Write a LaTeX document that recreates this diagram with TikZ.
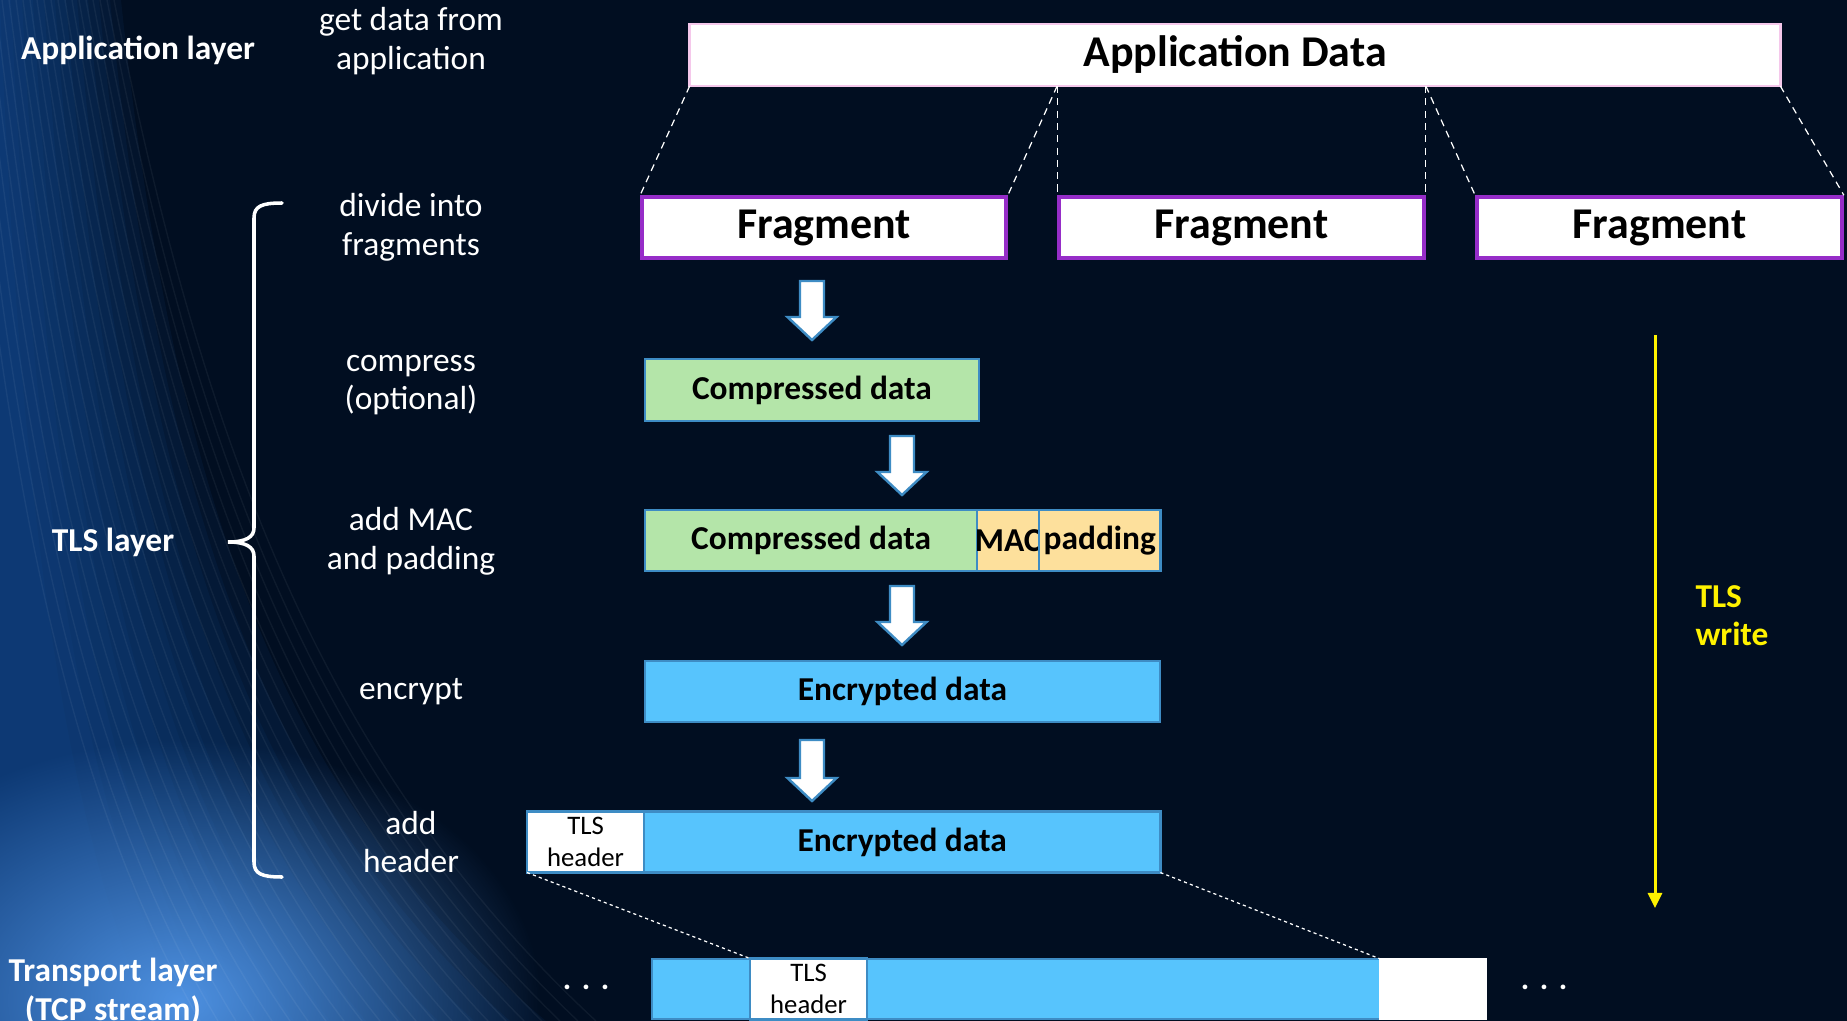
\documentclass[tikz,border=0pt]{standalone}
\usepackage{fontspec}
\setmainfont{Carlito}
\usetikzlibrary{arrows.meta,fadings}

\definecolor{bgnavy}{RGB}{1,14,33}
\definecolor{glowblue}{RGB}{24,84,160}
\definecolor{paleblue}{RGB}{78,145,225}
\definecolor{edgeblue}{RGB}{62,140,196}
\definecolor{compgreen}{RGB}{180,229,169}
\definecolor{padorange}{RGB}{253,224,156}
\definecolor{encblue}{RGB}{87,196,253}
\definecolor{fragpurple}{RGB}{150,45,200}
\definecolor{apppink}{RGB}{245,200,235}

\tikzfading[name=glowfade, inner color=transparent!0, outer color=transparent!100]

% block arrow: x of axis, top, tip
\newcommand\blockarrow[3]{%
  \draw[blockarr] (#1-12,#2) -- (#1+12,#2) -- (#1+12,#3-23) -- (#1+24.5,#3-23)
    -- (#1,#3) -- (#1-24.5,#3-23) -- (#1-12,#3-23) -- cycle;}

\begin{document}
\begin{tikzpicture}[x=0.01cm,y=-0.01cm,
  box/.style={draw=edgeblue,line width=0.7pt,inner sep=0pt,outer sep=0pt,minimum height=0.61cm,
    text=black,font=\bfseries\fontsize{9.5}{11}\selectfont},
  fragbox/.style={draw=fragpurple,fill=white,line width=1pt,inner sep=0pt,
    minimum width=3.65cm,minimum height=0.61cm,font=\bfseries\fontsize{12.5}{14}\selectfont},
  hdrbox/.style={box,fill=white,minimum width=1.17cm,align=center,
    font=\fontsize{7.6}{9}\selectfont},
  steplabel/.style={text=white,align=center,font=\fontsize{9.5}{11}\selectfont},
  layerlabel/.style={text=white,align=center,font=\bfseries\fontsize{9.5}{11}\selectfont},
  blockarr/.style={draw=edgeblue,fill=white,line width=0.7pt,line join=miter},
  splitline/.style={white,line width=0.35pt,dash pattern=on 2pt off 1.5pt},
  mapline/.style={white,line width=0.35pt,dash pattern=on 0.9pt off 0.9pt},
  brace/.style={white,line width=1pt,line cap=round}]
\useasboundingbox (0,0) rectangle (1847,1021);
% ================= background =================
\fill[bgnavy] (0,0) rectangle (1847,1021);
\foreach \k in {0,...,11}{
  \fill[glowblue,opacity=0.09] (0,0) -- (\k*11,0) .. controls (\k*14+20,500)
    and (\k*20+60,800) .. (\k*36+150,1021) -- (0,1021) -- cycle;
}
\fill[paleblue,path fading=glowfade] (180,1000) ellipse (360 and 260);
\foreach \i in {0,...,22}{
  \draw[white,opacity=0.05,line width=0.4pt] (\i*7-40,0) .. controls (\i*9,420)
    and (\i*12+50,760) .. (\i*18+200,1021);
}
% ================= left column =================
\node[layerlabel] (applayer) at (138,50) {Application layer};
\node[layerlabel] (tlslayer) at (113,542) {TLS layer};
\node[layerlabel] (tcplayer) at (113,992) {Transport layer\\(TCP stream)};
\draw[brace] (282,203) .. controls (262,203) and (254,206) .. (254,218) -- (254,528)
  .. controls (254,537) and (246,542) .. (228,542)
  .. controls (246,542) and (254,547) .. (254,556) -- (254,862)
  .. controls (254,874) and (262,877) .. (282,877);
% ================= steps =================
\node[steplabel] (sget) at (411,41) {get data from\\application};
\node[steplabel] (sdiv) at (411,227) {divide into\\fragments};
\node[steplabel] (scomp) at (411,385) {compress\\(optional)};
\node[steplabel] (smac) at (411,541) {add MAC\\and padding};
\node[steplabel] (senc) at (411,692) {encrypt};
\node[steplabel] (shdr) at (411,842) {add\\header};
% ================= records =================
\node[draw=apppink,fill=white,line width=0.7pt,outer sep=0pt,minimum width=10.9cm,minimum height=0.62cm,
  font=\bfseries\fontsize{12.5}{14}\selectfont] (appdata) at (1235,55) {Application Data};
\node[fragbox,minimum width=3.64cm] (frag1) at (824,227.5) {Fragment};
\node[fragbox] (frag2) at (1241.5,227.5) {Fragment};
\node[fragbox] (frag3) at (1659.5,227.5) {Fragment};
\coordinate (cut1) at (frag2.north west |- appdata.south);
\coordinate (cut2) at (frag2.north east |- appdata.south);
\draw[splitline] (appdata.south west) -- (frag1.north west);
\draw[splitline] (cut1) -- (frag1.north east);
\draw[splitline] (cut1) -- (frag2.north west);
\draw[splitline] (cut2) -- (frag2.north east);
\draw[splitline] (cut2) -- (frag3.north west);
\draw[splitline] (appdata.south east) -- (frag3.north east);

\node[box,fill=compgreen,minimum width=3.34cm,minimum height=0.62cm] (comp1) at (812,390) {Compressed data};
\node[box,fill=compgreen,minimum width=3.32cm,anchor=west] (comp2) at (645,540.5) {Compressed data};
\node[box,fill=padorange,minimum width=0.62cm,anchor=west] (mac) at (comp2.east) {\makebox[0.62cm]{MAC}};
\node[box,fill=padorange,minimum width=1.21cm,anchor=west] (pad) at (mac.east) {\makebox[1.21cm]{padding}};
\node[box,fill=encblue,minimum width=5.15cm] (enc1) at (902.5,691.5) {Encrypted data};
\node[hdrbox,anchor=west] (hdr) at (527,842) {TLS\\header};
\node[box,fill=encblue,minimum width=5.16cm,anchor=west] (enc2) at (hdr.east) {Encrypted data};

\blockarrow{812}{281}{340}
\blockarrow{902}{436}{495}
\blockarrow{902}{586}{645}
\blockarrow{812}{740}{801}
% ================= TCP stream =================
\node[box,fill=encblue,minimum width=0.98cm,minimum height=0.60cm,anchor=west] (tcpa) at (652,989) {};
\node[hdrbox,anchor=west] (tcphdr) at (tcpa.east) {TLS\\header};
\node[box,fill=encblue,minimum width=5.13cm,minimum height=0.60cm,anchor=west] (tcpb) at (tcphdr.east) {};
\node[box,draw=white,fill=white,minimum width=1.05cm,minimum height=0.60cm,anchor=west] (tcpend) at (tcpb.east) {};
\node[text=white,font=\bfseries\fontsize{9}{10}\selectfont] (dotsl) at (586,987) {.\,\,.\,\,.};
\node[text=white,font=\bfseries\fontsize{9}{10}\selectfont] (dotsr) at (1544,987) {.\,\,.\,\,.};
\draw[mapline] (hdr.south west) -- (tcphdr.north west);
\draw[mapline] (enc2.south east) -- (tcpend.north west);
% ================= write direction =================
\coordinate (wtop) at (1655,335);
\coordinate (wbot) at (1655,908);
\draw[yellow,line width=0.85pt,-{Triangle[width=4pt,length=4.3pt]}] (wtop) -- (wbot);
\node[text=yellow,align=left,font=\bfseries\fontsize{9.5}{10.8}\selectfont] (wlabel) at (1732,616) {TLS\\write};
\end{tikzpicture}
\end{document}
